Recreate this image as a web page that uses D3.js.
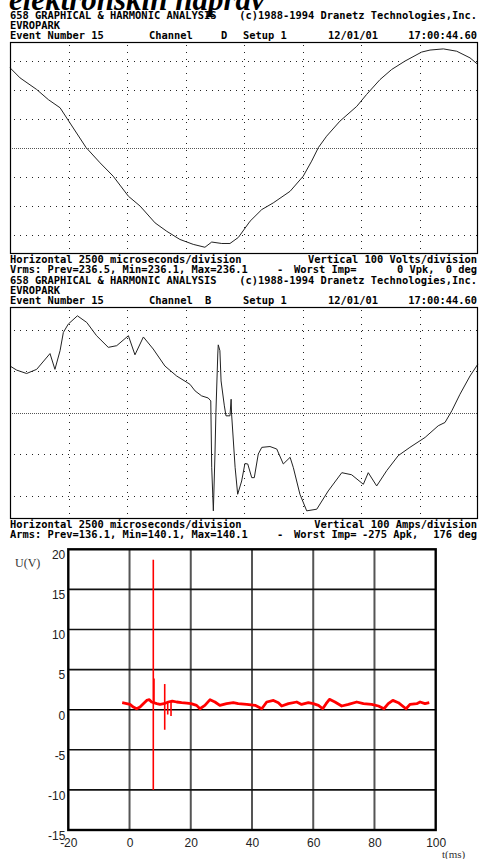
<!DOCTYPE html>
<html>
<head>
<meta charset="utf-8">
<script src="https://cdn.jsdelivr.net/npm/d3@7"></script>
<style>
  html, body { margin: 0; padding: 0; background: #fff; }
  svg { display: block; }
</style>
</head>
<body>
<svg id="chart" width="480" height="859"></svg>
<script>
// ---- Channel D voltage waveform (time in ms, volts) ----
const dTime  = [0, 0.43, 1.14, 1.64, 2.14, 2.56, 3.25, 3.85, 4.41, 5.06, 5.56, 6.20, 6.70, 7.26, 7.83, 8.33, 8.62, 9.05, 9.40, 9.76,
                10.26, 10.76, 11.25, 11.97, 12.53, 12.89, 13.18, 13.53, 14.10, 14.82, 15.24, 15.81, 16.31, 16.88, 17.59, 17.95, 18.52, 19.09, 19.66, 20.0];
const dVolts = [275, 240, 200, 165, 137, 85, 0, -53, -99, -168, -202, -260, -289, -317, -334, -344, -326, -331, -331, -310,
                -254, -214, -191, -151, -99, -47, 0, 39, 91, 142, 183, 234, 269, 298, 329, 336, 340, 332, 309, 286];

// ---- Channel B current waveform (time in ms, amps) ----
const bTime = [0, 0.29, 0.71, 1.14, 1.71, 1.92, 2.14, 2.28, 2.49, 2.88, 3.28, 3.70, 4.20, 4.56, 5.06, 5.34, 5.70, 6.12, 6.62, 7.12,
               7.69, 7.91, 8.19, 8.47, 8.58, 8.62, 8.69, 8.76, 8.80, 8.88, 8.90, 8.97, 9.02, 9.16, 9.23, 9.40, 9.45, 9.47, 9.62, 9.73,
               9.90, 10.04, 10.16, 10.33, 10.44, 10.61, 10.76, 11.11, 11.40, 11.68, 11.97, 12.11, 12.39, 12.68, 13.11, 13.60, 14.18, 14.60, 15.10, 15.31,
               15.67, 16.10, 16.59, 17.09, 17.74, 18.30, 18.59, 18.88, 19.23, 19.66, 20.0];
const bAmps = [112, 102, 94, 104, 142, 104, 149, 193, 213, 233, 217, 185, 157, 161, 185, 139, 182, 153, 112, 88,
               68, 52, 40, 35, 28, -132, -237, -100, 0, 141, 163, 149, 76, 16, -8, -8, 32, -4, -132, -197,
               -165, -123, -124, -157, -157, -100, -84, -82, -88, -124, -108, -133, -197, -237, -233, -189, -145, -150, -173, -145,
               -177, -140, -104, -84, -60, -32, -24, 4, 44, 88, 117];

// ---- Scope grid divisions ----
const divTimes = [2.5, 5, 7.5, 10, 12.5, 15, 17.5];
const dGridVolts = [-300, -200, -100, 100, 200, 300];
const bGridAmps = [-200, -100, 100, 200];

// ---- Disturbance record U(t) ----
const uTime  = [-2.4, -0.94, 0.15, 1.24, 2.33, 3.42, 4.5, 5.6, 6.47, 7.2, 8.9, 9.95, 11.26, 12.66, 13.97, 15.4, 17.0, 18.7, 20.1, 21.9,
                23.0, 24.6, 26.3, 27.9, 29.5, 31.7, 33.9, 35.5, 38.3, 41.0, 43.2, 44.8, 47.0, 48.6, 49.7, 51.9, 54.6, 56.2, 58.4, 60.0,
                61.7, 63.1, 64.2, 65.3, 67.1, 69.3, 71.5, 74.2, 76.4, 79.1, 81.3, 83.1, 84.5, 86.0, 87.8, 90.3, 91.6, 93.8, 94.9, 96.5, 97.9];
const uVolts = [0.87, 0.75, 0.66, 0.33, 0.12, 0.33, 0.75, 1.16, 1.25, 0.96, 0.75, 0.66, 0.75, 0.96, 1.08, 0.96, 0.87, 0.83, 0.75, 0.54,
                0.12, 0.54, 1.25, 0.96, 0.54, 0.75, 0.87, 0.75, 0.66, 0.54, 0.12, 0.96, 1.16, 0.87, 0.46, 0.75, 0.96, 0.66, 0.87, 0.75,
                0.54, 0.12, 0.75, 1.29, 0.96, 0.46, 0.66, 0.96, 0.75, 0.66, 0.46, 0.12, 0.75, 1.16, 0.87, 0.12, 0.66, 0.75, 0.96, 0.75, 0.87];
const spikeTime = [7.76, 7.99, 11.49, 12.47, 13.55];
const spikeLow  = [-10, 0.8, -2.5, -0.6, -0.8];
const spikeHigh = [18.7, 3.9, 3.2, 1.0, 1.0];
const uTicksX = [-20, 0, 20, 40, 60, 80, 100];
const uTicksY = [-15, -10, -5, 0, 5, 10, 15, 20];

const titleText = "elektronskih naprav";

const svg = d3.select("#chart");
svg.append("rect").attr("width", 480).attr("height", 859).attr("fill", "#fff");

// Heading above the scope printouts (runs off the top edge)
svg.append("text")
  .attr("x", 9).attr("y", 9.5)
  .attr("font-family", "'Liberation Serif', 'Times New Roman', serif")
  .attr("font-style", "italic").attr("font-weight", "bold")
  .attr("font-size", 31)
  .text(titleText);

const mono = "'DejaVu Sans Mono', monospace";
function textRow(y, segs) {
  segs.forEach(([s, x, anchor]) => {
    svg.append("text")
      .attr("x", x).attr("y", y)
      .attr("text-anchor", anchor || "start")
      .attr("font-family", mono).attr("font-weight", "bold")
      .attr("font-size", 10.4)
      .attr("fill", "#000")
      .style("white-space", "pre")
      .text(s);
  });
}

// One Dranetz 658 printout: header, dotted graticule, trace, footer
function scopePanel(cfg) {
  const L = 10, R = 478, H = 211, top = cfg.top;
  const mid = top + H / 2;
  textRow(top - 23, [["658 GRAPHICAL & HARMONIC ANALYSIS", 10], ["(c)1988-1994 Dranetz Technologies,Inc.", 477, "end"]]);
  textRow(top - 13, [["EVROPARK", 10]]);
  textRow(top - 3, [["Event Number 15", 10], ["Channel", 149], [cfg.channel, cfg.channelX], ["Setup 1", 243], ["12/01/01", 328], ["17:00:44.60", 477, "end"]]);

  const x = d3.scaleLinear().domain([0, 20]).range([L, R]);
  const y = d3.scaleLinear().domain([0, 100]).range([mid, mid - cfg.pxPerDiv]);
  const g = svg.append("g");

  g.selectAll("line.v").data(divTimes).join("line")
    .attr("x1", d => Math.round(x(d)) + 0.5).attr("x2", d => Math.round(x(d)) + 0.5)
    .attr("y1", top + 3).attr("y2", top + H)
    .attr("stroke", "#222").attr("stroke-width", 1).attr("stroke-dasharray", "1,6");
  g.selectAll("line.h").data(cfg.grid).join("line")
    .attr("x1", L + 4).attr("x2", R)
    .attr("y1", d => Math.round(y(d)) + 0.5).attr("y2", d => Math.round(y(d)) + 0.5)
    .attr("stroke", "#222").attr("stroke-width", 1).attr("stroke-dasharray", "1,5");
  g.append("line")
    .attr("x1", L).attr("x2", R)
    .attr("y1", Math.round(y(0)) + 0.5).attr("y2", Math.round(y(0)) + 0.5)
    .attr("stroke", "#555").attr("stroke-width", 1).attr("stroke-dasharray", "1,1");

  const line = d3.line().x((d, i) => x(cfg.t[i])).y(d => y(d));
  g.append("path").datum(cfg.v)
    .attr("d", line).attr("fill", "none")
    .attr("stroke", "#222").attr("stroke-width", 1).attr("stroke-linejoin", "round");

  g.append("rect")
    .attr("x", L + 0.5).attr("y", top + 0.5).attr("width", R - L - 1).attr("height", H)
    .attr("fill", "none").attr("stroke", "#000").attr("stroke-width", 1.2);

  textRow(top + H + 10, [["Horizontal 2500 microseconds/division", 10], [cfg.vertical, 477, "end"]]);
  textRow(top + H + 20, cfg.summary);
}

scopePanel({
  top: 42, channel: "D", channelX: 221, pxPerDiv: 29, grid: dGridVolts, t: dTime, v: dVolts,
  vertical: "Vertical 100 Volts/division",
  summary: [["Vrms: Prev=236.5, Min=236.1, Max=236.1", 10], ["-", 277], ["Worst Imp=", 294], ["0 Vpk,", 397], ["0 deg", 477, "end"]]
});
scopePanel({
  top: 307, channel: "B", channelX: 205, pxPerDiv: 41.5, grid: bGridAmps, t: bTime, v: bAmps,
  vertical: "Vertical 100 Amps/division",
  summary: [["Arms: Prev=136.1, Min=140.1, Max=140.1", 10], ["-", 277], ["Worst Imp=", 294], ["-275 Apk,", 362], ["176 deg", 477, "end"]]
});

// ---- U(t) chart ----
const x3 = d3.scaleLinear().domain([-20, 100]).range([68.3, 435.7]);
const y3 = d3.scaleLinear().domain([-15, 20]).range([830, 549.3]);
const ug = svg.append("g");

ug.selectAll("line.gv").data(uTicksX.filter(d => d > -20 && d < 100)).join("line")
  .attr("x1", d => x3(d)).attr("x2", d => x3(d))
  .attr("y1", y3(20)).attr("y2", y3(-15))
  .attr("stroke", "#555").attr("stroke-width", 2);
ug.selectAll("line.gh").data(uTicksY.filter(d => d > -15 && d < 20)).join("line")
  .attr("x1", x3(-20)).attr("x2", x3(100))
  .attr("y1", d => y3(d)).attr("y2", d => y3(d))
  .attr("stroke", d => d === 0 ? "#000" : "#111").attr("stroke-width", 1.6);

const uLine = d3.line().x((d, i) => x3(uTime[i])).y(d => y3(d));
ug.append("path").datum(uVolts)
  .attr("d", uLine).attr("fill", "none")
  .attr("stroke", "#ff0000").attr("stroke-width", 2.8).attr("stroke-linejoin", "round");
ug.selectAll("line.spike").data(spikeTime).join("line")
  .attr("x1", d => x3(d)).attr("x2", d => x3(d))
  .attr("y1", (d, i) => y3(spikeHigh[i])).attr("y2", (d, i) => y3(spikeLow[i]))
  .attr("stroke", "#ff0000").attr("stroke-width", 1.6);

ug.append("rect")
  .attr("x", x3(-20)).attr("y", y3(20))
  .attr("width", x3(100) - x3(-20)).attr("height", y3(-15) - y3(20))
  .attr("fill", "none").attr("stroke", "#000").attr("stroke-width", 2.4);

const axFont = "'Liberation Sans', Arial, sans-serif";
const plainNum = d => String(d);
const yAxis = svg.append("g").attr("transform", `translate(${x3(-20) - 3},0)`)
  .call(d3.axisLeft(y3).tickValues(uTicksY).tickSize(0).tickPadding(0).tickFormat(plainNum));
yAxis.select(".domain").remove();
yAxis.selectAll("text").attr("dy", "0.78em").attr("font-family", axFont).attr("font-size", 12).attr("fill", "#222");

const xAxis = svg.append("g").attr("transform", `translate(0,${y3(-15)})`)
  .call(d3.axisBottom(x3).tickValues(uTicksX).tickSize(0).tickPadding(8).tickFormat(plainNum));
xAxis.select(".domain").remove();
xAxis.selectAll("text").attr("font-family", axFont).attr("font-size", 12).attr("fill", "#222");

svg.append("text").attr("x", 15).attr("y", 567)
  .attr("font-family", "'Liberation Serif', serif").attr("font-size", 12).attr("fill", "#333")
  .text("U(V)");
svg.append("text").attr("x", 442).attr("y", 857.5)
  .attr("font-family", "'Liberation Serif', serif").attr("font-size", 11).attr("fill", "#333")
  .text("t(ms)");
</script>
</body>
</html>
